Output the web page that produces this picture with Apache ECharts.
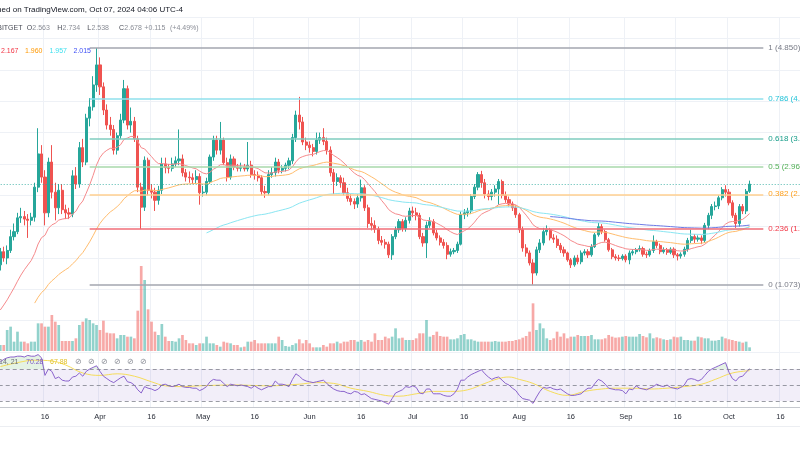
<!DOCTYPE html>
<html><head><meta charset="utf-8">
<script src="https://cdn.jsdelivr.net/npm/echarts@6/dist/echarts.min.js"></script>
<style>html,body{margin:0;padding:0;background:#fff}#c{width:800px;height:450px}</style>
</head><body><div id="c"></div>
<script>
// ---------- data ----------
const axisStart = [2024, 2, 1];          // first category: 1 Mar 2024 (two days before first candle)
const firstCandle = 2;                   // category index of 3 Mar 2024
const categoryCount = 236;               // through 22 Oct 2024
const monthNames = ['Jan','Feb','Mar','Apr','May','Jun','Jul','Aug','Sep','Oct','Nov','Dec'];
const tickDays = [1, 16];

const opens = [1.39,1.60,1.50,1.62,1.84,1.92,2.14,2.16,2.12,2.10, 2.15,2.63,3.16,2.79,2.22,3.03,2.55,2.30,2.58,2.27,
 2.22,2.20,2.81,2.68,3.26,3.03,3.73,3.91,4.26,4.58, 4.23,3.86,3.62,3.55,3.22,3.45,3.70,4.20,3.62,3.68,
 3.40,2.63,2.31,3.06,2.58,2.55,2.42,2.58,3.00,2.94, 2.93,3.00,3.05,3.08,2.86,2.79,2.78,2.75,2.80,2.54,
 2.55,2.72,3.11,3.38,3.22,3.38,3.02,2.79,3.08,2.95, 2.93,2.95,2.92,2.98,2.83,2.82,2.78,2.56,2.54,2.83,
 2.86,3.03,2.90,2.93,2.98,3.05,3.42,3.78,3.67,3.35, 3.30,3.26,3.20,3.38,3.42,3.36,3.22,2.86,2.72,2.78,
 2.70,2.54,2.45,2.40,2.36,2.46,2.62,2.30,2.05,2.02, 1.96,1.78,1.75,1.72,1.55,1.84,1.95,2.08,1.97,2.10,
 2.25,2.22,2.18,1.84,1.74,2.02,2.08,1.90,1.82,1.75, 1.70,1.56,1.60,1.62,1.72,2.19,2.22,2.25,2.48,2.63,
 2.83,2.70,2.52,2.48,2.55,2.60,2.72,2.50,2.43,2.36, 2.30,2.19,1.95,1.66,1.58,1.42,1.26,1.63,1.74,1.92,
 1.95,1.82,1.80,1.70,1.63,1.58,1.47,1.39,1.50,1.44, 1.58,1.60,1.55,1.68,1.87,2.00,1.92,1.79,1.63,1.52,
 1.50,1.49,1.53,1.47,1.58,1.60,1.63,1.65,1.56,1.55, 1.62,1.76,1.70,1.60,1.63,1.59,1.64,1.55,1.53,1.56,
 1.64,1.78,1.84,1.80,1.82,1.78,2.02,2.18,2.32,2.33, 2.46,2.59,2.55,2.38,2.18,2.05,2.32,2.25,2.563];
const closes = [1.60,1.50,1.62,1.84,1.92,2.14,2.16,2.12,2.10,2.15, 2.63,3.16,2.79,2.22,3.03,2.55,2.30,2.58,2.27,2.22,
 2.20,2.81,2.68,3.26,3.03,3.73,3.91,4.26,4.58,4.23, 3.86,3.62,3.55,3.22,3.45,3.70,4.20,3.62,3.68,3.40,
 2.63,2.31,3.06,2.58,2.55,2.42,2.58,3.00,2.94,2.93, 3.00,3.05,3.08,2.86,2.79,2.78,2.75,2.80,2.54,2.55,
 2.72,3.11,3.38,3.22,3.38,3.02,2.79,3.08,2.95,2.93, 2.95,2.92,2.98,2.83,2.82,2.78,2.56,2.54,2.83,2.86,
 3.03,2.90,2.93,2.98,3.05,3.42,3.78,3.67,3.35,3.30, 3.26,3.20,3.38,3.42,3.36,3.22,2.86,2.72,2.78,2.70,
 2.54,2.45,2.40,2.36,2.46,2.62,2.30,2.05,2.02,1.96, 1.78,1.75,1.72,1.55,1.84,1.95,2.08,1.97,2.10,2.25,
 2.22,2.18,1.84,1.74,2.02,2.08,1.90,1.82,1.75,1.70, 1.56,1.60,1.62,1.72,2.19,2.22,2.25,2.48,2.63,2.83,
 2.70,2.52,2.48,2.55,2.60,2.72,2.50,2.43,2.36,2.30, 2.19,1.95,1.66,1.58,1.42,1.26,1.63,1.74,1.92,1.95,
 1.82,1.80,1.70,1.63,1.58,1.47,1.39,1.50,1.44,1.58, 1.60,1.55,1.68,1.87,2.00,1.92,1.79,1.63,1.52,1.50,
 1.49,1.53,1.47,1.58,1.60,1.63,1.65,1.56,1.55,1.62, 1.76,1.70,1.60,1.63,1.59,1.64,1.55,1.53,1.56,1.64,
 1.78,1.84,1.80,1.82,1.78,2.02,2.18,2.32,2.33,2.46, 2.59,2.55,2.38,2.18,2.05,2.32,2.25,2.563,2.678];
const highs = [1.66,1.68,1.70,1.95,2.05,2.22,2.30,2.25,2.20,2.22, 2.70,3.57,3.30,2.90,3.10,3.30,2.70,2.68,2.68,2.35,
 2.30,2.90,2.95,3.35,3.40,3.80,4.05,4.40,4.85,4.70, 4.30,3.95,3.75,3.62,3.50,3.80,4.34,4.25,3.90,3.75,
 3.45,2.70,3.12,3.10,2.68,2.62,2.65,3.10,3.10,3.00, 3.10,3.12,3.55,3.15,2.92,2.88,2.85,2.90,2.85,2.65,
 2.78,3.15,3.45,3.45,3.67,3.42,3.10,3.15,3.12,3.00, 3.02,3.00,3.35,3.05,2.90,2.88,2.82,2.65,2.90,2.95,
 3.10,3.08,2.98,3.02,3.10,3.48,3.85,4.07,3.75,3.42, 3.36,3.32,3.50,3.50,3.57,3.42,3.28,2.92,2.85,2.82,
 2.78,2.62,2.52,2.45,2.52,2.75,2.66,2.35,2.15,2.10, 2.00,1.85,1.80,1.76,1.88,2.00,2.12,2.12,2.15,2.30,
 2.32,2.30,2.22,1.90,2.08,2.15,2.12,1.95,1.86,1.80, 1.75,1.65,1.66,1.76,2.24,2.28,2.30,2.52,2.68,2.87,
 2.89,2.76,2.58,2.60,2.66,2.76,2.75,2.56,2.48,2.40, 2.34,2.22,2.00,1.72,1.62,1.48,1.68,1.80,1.98,2.02,
 1.98,1.88,1.86,1.74,1.68,1.60,1.50,1.54,1.55,1.62, 1.64,1.64,1.72,1.90,2.06,2.04,1.95,1.82,1.66,1.56,
 1.55,1.56,1.56,1.62,1.64,1.66,1.70,1.68,1.60,1.65, 1.86,1.79,1.73,1.67,1.66,1.67,1.67,1.58,1.59,1.68,
 1.82,1.95,1.88,1.86,1.86,2.06,2.22,2.36,2.40,2.50, 2.63,2.66,2.60,2.42,2.22,2.36,2.36,2.60,2.734];
const lows = [1.30,1.44,1.40,1.58,1.78,1.88,2.06,2.02,1.82,2.02, 2.08,2.55,2.70,2.02,2.15,2.45,2.10,2.20,2.20,2.12,
 2.12,2.15,2.60,2.62,2.95,2.98,3.60,3.85,4.15,4.10, 3.78,3.55,3.45,3.15,3.15,3.40,3.65,3.55,3.50,3.35,
 2.55,1.96,2.25,2.50,2.45,2.25,2.35,2.52,2.85,2.85, 2.88,2.95,2.98,2.80,2.72,2.70,2.68,2.68,2.35,2.48,
 2.50,2.68,3.05,3.15,3.15,2.98,2.72,2.75,2.90,2.88, 2.88,2.88,2.88,2.78,2.75,2.72,2.50,2.46,2.50,2.78,
 2.80,2.85,2.85,2.88,2.92,3.00,3.35,3.55,3.30,3.22, 3.18,3.12,3.15,3.32,3.30,3.15,2.80,2.52,2.65,2.62,
 2.50,2.40,2.34,2.28,2.30,2.40,2.25,1.98,1.94,1.90, 1.72,1.70,1.65,1.50,1.47,1.80,1.90,1.92,1.92,2.05,
 2.15,2.10,1.80,1.68,1.50,1.98,1.86,1.78,1.70,1.65, 1.48,1.52,1.56,1.58,1.70,2.12,2.16,2.20,2.44,2.58,
 2.62,2.45,2.42,2.42,2.48,2.35,2.45,2.38,2.32,2.25, 2.14,1.90,1.60,1.52,1.38,1.073,1.22,1.58,1.70,1.86,
 1.78,1.74,1.66,1.58,1.52,1.44,1.34,1.36,1.40,1.40, 1.54,1.50,1.52,1.66,1.84,1.88,1.76,1.60,1.48,1.46,
 1.45,1.46,1.43,1.40,1.54,1.56,1.60,1.52,1.50,1.52, 1.58,1.66,1.56,1.57,1.55,1.56,1.50,1.46,1.49,1.52,
 1.60,1.74,1.74,1.76,1.72,1.74,1.96,2.12,2.26,2.28, 2.42,2.48,2.34,2.14,1.98,2.00,2.20,2.20,2.538];
const volumes = [18,18,63,73,28,58,28,28,23,28, 28,83,83,73,73,108,88,78,30,30, 30,30,38,78,88,98,93,83,78,63,
 91,55,53,53,38,48,48,43,43,38, 121,255,213,
 125,88,58,48,81,43,30,30,28,38, 48,33,23,23,18,23,23,43,23,23, 18,13,28,25,23,18,18,11,13,28,
 28,33,23,23,23,23,23,23,43,33, 15,13,18,23,35,23,33,23,11,11, 11,18,13,23,23,28,23,28,28,33,
 33,28,33,28,33,28,53,33,33,43, 38,43,68,38,
 40,33,33,33,38,53,53,93,43,48, 58,45,43,43,35,35,38,48,51,35, 35,31,28,28,28,28,28,30,28,28, 28,30,30,33,35,40,45,58,
 143,
 63,83,68,38,33,38,58,43,53,38, 43,43,48,45,45,45,48,35,35,35, 38,48,43,40,41,43,45,43,43,43,
 51,45,41,53,38,41,38,35,33,35, 43,41,43,33,33,31,31,43,41,38, 38,31,31,33,43,38,35,33,30,28, 25,28,11];
const rsiValues = [79,82,84,85,85,86,86,85,87,86, 86,88,84,62,70,67,58,60,56,55, 55,60,61,65,61,67,70,72,74,67,
 61,58,55,53,56,59,61,54,53,50, 44,40,48,46,45,43,45,50,51,49, 48,49,51,48,47,47,46,46,43,45,
 48,54,57,56,56,52,48,51,50,49, 50,49,48,46,49,46,44,46,48,48, 55,51,51,50,48,57,64,61,57,55,
 54,53,54,55,56,52,48,45,43,42, 42,40,39,42,41,38,39,36,33,32, 31,30,28,26,33,40,42,44,48,47,
 49,47,40,39,45,45,39,39,39,37, 36,36,39,45,56,56,60,63,65,67, 69,64,60,57,59,60,56,52,50,46,
 43,37,33,32,31,27,35,42,47,46, 47,45,44,45,42,39,37,37,38,39, 43,46,46,52,57,55,51,46,45,44,
 44,43,39,45,44,49,46,45,44,46, 48,51,49,48,50,47,46,45,47,50, 57,58,57,55,57,62,67,70,72,74,
 76,78,66,58,55,60,61,66,70.28];
const rsiSignalPoints = [[0,73],[5,78],[10,81],[15,80],[19,75],[24,65],[29,62],[34,64],[39,61],[44,54],[48,49],
 [53,48],[58,49],[68,50],[78,49],[87,51],[92,53],[97,52],[102,46],[107,42],[112,37],[116,36],[121,39],[126,42],
 [131,42],[136,44],[141,52],[145,58],[148,60],[151,57],[155,52],[160,42],[165,37],[170,42],[175,45],[179,46],
 [184,46],[189,45],[194,46],[199,48],[204,51],[208,57],[213,65],[218,67.88]];
// EMA lines: period, first visible day and its value
const emaPeriods = [20, 50, 100, 200];
const emaSeedDays = [0, 10, 60, 160];
const emaSeedValues = [0.67, 0.78, 1.90, 2.16];
const emaColors = ['#f58a8c', '#ffbd6e', '#8ae6f2', '#6e7be6'];
const emaLegend = ['2.167', '1.960', '1.957', '2.015'];
const emaLegendColors = ['#f23645', '#ff9800', '#3fe0ef', '#3f51f5'];
const fibLevels = ['1', '0.786', '0.618', '0.5', '0.382', '0.236', '0'];
const fibPrices = [4.850, 4.042, 3.407, 2.962, 2.516, 1.964, 1.073];
const fibLineColors = ['#a3a6af', '#8fe0ec', '#7fccbf', '#a9d9ab', '#ffcf8f', '#f06e78', '#a3a6af'];
const fibTextColors = ['#787b86', '#22c3d8', '#169d89', '#52b056', '#ff9f1a', '#f23645', '#787b86'];
const fibFrom = 28, fibTo = 224;
const lastPrice = 2.678;
const headerOHLC = {O:'2.563', H:'2.734', L:'2.538', C:'2.678', chg:'+0.115', pct:'(+4.49%)'};
const rsiHeader = {title:'RSI 14, 21', rsi:'70.28', signal:'67.88'};

// ---------- build ----------
const cats = [];
for (let i = 0; i < categoryCount; i++) {
  const dt = new Date(Date.UTC(axisStart[0], axisStart[1], axisStart[2] + i));
  cats.push(dt.getUTCFullYear() + '-' + (dt.getUTCMonth() + 1) + '-' + dt.getUTCDate());
}
const isTick = (idx, val) => tickDays.includes(+String(val).split('-')[2]);
const tickFmt = (val) => { const p = val.split('-').map(Number); return p[2] === 1 ? monthNames[p[1] - 1] : String(p[2]); };

const N = closes.length;
const candleData = [], volData = [], rsiData = [], obData = [], osData = [];
for (let i = 0; i < categoryCount; i++) {
  const d = i - firstCandle;
  if (d >= 0 && d < N) {
    candleData.push([opens[d], closes[d], lows[d], highs[d]]);
    const up = closes[d] >= opens[d];
    volData.push({value: volumes[d], itemStyle: {color: up ? 'rgba(38,166,154,0.5)' : 'rgba(239,83,80,0.5)'}});
    rsiData.push(rsiValues[d]);
    obData.push(Math.max(rsiValues[d], 70));
    osData.push(Math.min(rsiValues[d], 30));
  } else { candleData.push('-'); volData.push('-'); rsiData.push(null); obData.push(null); osData.push(null); }
}
const sigData = new Array(categoryCount).fill(null);
rsiSignalPoints.forEach(p => { sigData[p[0] + firstCandle] = p[1]; });

function emaLine(k) {
  const out = new Array(categoryCount).fill(null);
  const a = 2 / (emaPeriods[k] + 1);
  let e = emaSeedValues[k];
  out[emaSeedDays[k] + firstCandle] = e;
  for (let d = emaSeedDays[k] + 1; d < N; d++) { e = e + a * (closes[d] - e); out[d + firstCandle] = +e.toFixed(4); }
  return out;
}

const band = 3.437;
const gridLeft = 0.3 - (firstCandle + 0.5) * band;
const gridRight = 800 - (gridLeft + categoryCount * band);
const FONT = 'Liberation Sans, Arial, sans-serif';
const gridLine = '#eef1f6';

const xBase = (gi, showLabels) => ({
  type: 'category', gridIndex: gi, data: cats, boundaryGap: true,
  axisTick: {show: false},
  axisLine: {show: showLabels, lineStyle: {color: '#c5c8ce'}},
  axisLabel: {show: showLabels, interval: isTick, formatter: tickFmt, color: '#2a2e39', fontSize: 7.5, fontFamily: FONT, margin: 6, showMinLabel: true},
  splitLine: {show: gi !== 1, interval: isTick, lineStyle: {color: gridLine, width: 1}}
});

const fibMarks = fibPrices.map((p, k) => [
  {coord: [fibFrom, p], lineStyle: {color: fibLineColors[k], width: 1.5, type: 'solid'},
   label: {show: true, position: 'end', distance: 5, formatter: fibLevels[k] + ' (' + p.toFixed(3) + ')', color: fibTextColors[k], fontSize: 8, fontFamily: FONT}},
  {coord: [fibTo, p]}
]);

const series = [
  {type: 'bar', name: 'vol', xAxisIndex: 1, yAxisIndex: 1, data: volData, barCategoryGap: '22%', silent: true, z: 1},
  {type: 'candlestick', xAxisIndex: 0, yAxisIndex: 0, data: candleData, barWidth: '76%', z: 3,
   itemStyle: {color: '#26a69a', color0: '#ef5350', borderColor: '#26a69a', borderColor0: '#ef5350', borderWidth: 1},
   markLine: {silent: true, symbol: ['none', 'none'], label: {show: false},
     lineStyle: {color: '#26a69a', type: [1, 2], width: 1, opacity: 0.8}, data: [{yAxis: lastPrice}]}},
  {type: 'line', xAxisIndex: 0, yAxisIndex: 0, data: [], silent: true, z: 2,
   markLine: {silent: true, symbol: ['none', 'none'], data: fibMarks}}
];
emaPeriods.forEach((p, k) => series.push({
  type: 'line', xAxisIndex: 0, yAxisIndex: 0, data: emaLine(k), showSymbol: false, silent: true, z: 4,
  lineStyle: {color: emaColors[k], width: 1}
}));
series.push(
  {type: 'line', xAxisIndex: 2, yAxisIndex: 2, data: obData, showSymbol: false, silent: true, z: 1,
   lineStyle: {width: 0, opacity: 0}, areaStyle: {origin: 70, color: 'rgba(76,175,80,0.22)'}},
  {type: 'line', xAxisIndex: 2, yAxisIndex: 2, data: osData, showSymbol: false, silent: true, z: 1,
   lineStyle: {width: 0, opacity: 0}, areaStyle: {origin: 30, color: 'rgba(242,54,69,0.15)'}},
  {type: 'line', xAxisIndex: 2, yAxisIndex: 2, data: sigData, connectNulls: true, smooth: 0.4, showSymbol: false, silent: true, z: 3,
   lineStyle: {color: '#f5dc5a', width: 1}},
  {type: 'line', xAxisIndex: 2, yAxisIndex: 2, data: rsiData, showSymbol: false, silent: true, z: 4,
   lineStyle: {color: '#8a63cc', width: 1},
   markArea: {silent: true, itemStyle: {color: 'rgba(126,87,194,0.1)'}, data: [[{yAxis: 30}, {yAxis: 70}]]},
   markLine: {silent: true, symbol: ['none', 'none'], label: {show: false},
     lineStyle: {color: 'rgba(120,123,134,0.75)', type: [4, 3], width: 1}, data: [{yAxis: 70}, {yAxis: 50}, {yAxis: 30}]}}
);

const txt = (x, y, text, fill, align, size) => ({type: 'text', x: x, y: y, silent: true, z: 100,
  style: {text: text, fill: fill, font: (size || 7) + 'px ' + FONT, textAlign: align || 'left', align: align || 'left', textVerticalAlign: 'middle', verticalAlign: 'middle'}});

const graphics = [
  txt(183, 10, 'Published on TradingView.com, Oct 07, 2024 04:06 UTC-4', '#131722', 'right', 8),
  txt(22.5, 28, 'BITGET', '#4a4d57', 'right'),
  txt(26.7, 28, 'O', '#4a4d57'), txt(32.3, 28, headerOHLC.O, '#8a8d96'),
  txt(57.3, 28, 'H', '#4a4d57'), txt(62.6, 28, headerOHLC.H, '#8a8d96'),
  txt(87.3, 28, 'L', '#4a4d57'), txt(91.5, 28, headerOHLC.L, '#8a8d96'),
  txt(119, 28, 'C', '#4a4d57'), txt(124.3, 28, headerOHLC.C, '#8a8d96'),
  txt(144.3, 28, headerOHLC.chg, '#8a8d96'), txt(170, 28, headerOHLC.pct, '#8a8d96'),
  txt(1, 51, emaLegend[0], emaLegendColors[0]), txt(25, 51, emaLegend[1], emaLegendColors[1]),
  txt(49.5, 51, emaLegend[2], emaLegendColors[2]), txt(73.5, 51, emaLegend[3], emaLegendColors[3]),
  txt(18.5, 362, rsiHeader.title, '#6a6d78', 'right'),
  txt(26, 362, rsiHeader.rsi, '#7e57c2'), txt(50, 362, rsiHeader.signal, '#e2c12a'),
  {type: 'line', silent: true, shape: {x1: 0, y1: 426.5, x2: 800, y2: 426.5}, style: {stroke: '#eceef2', lineWidth: 1}}
];
[78, 91, 104, 117, 130, 143].forEach(x => graphics.push(txt(x, 362, '\u2298', '#8a8d96', 'center', 8)));

const chart = echarts.init(document.getElementById('c'), null, {renderer: 'canvas'});
chart.setOption({
  animation: false,
  backgroundColor: '#ffffff',
  textStyle: {fontFamily: FONT},
  grid: [
    {left: gridLeft, right: gridRight, top: 17, height: 335, containLabel: false, outerBoundsMode: 'none'},
    {left: gridLeft, right: gridRight, top: 266, height: 85, containLabel: false, outerBoundsMode: 'none'},
    {left: gridLeft, right: gridRight, top: 352, height: 55, containLabel: false, outerBoundsMode: 'none'}
  ],
  xAxis: [xBase(0, false), xBase(1, false), xBase(2, true)],
  yAxis: [
    {type: 'value', gridIndex: 0, min: 0, max: 5.344, interval: 0.5, axisLabel: {show: false}, axisLine: {show: false}, axisTick: {show: false},
     splitLine: {show: true, lineStyle: {color: gridLine}}},
    {type: 'value', gridIndex: 1, min: 0, max: 255, show: false, splitLine: {show: false}},
    {type: 'value', gridIndex: 2, min: 22.5, max: 91.25, axisLabel: {show: false}, axisLine: {show: false}, axisTick: {show: false}, splitLine: {show: false}}
  ],
  graphic: graphics,
  series: series
});
</script></body></html>
